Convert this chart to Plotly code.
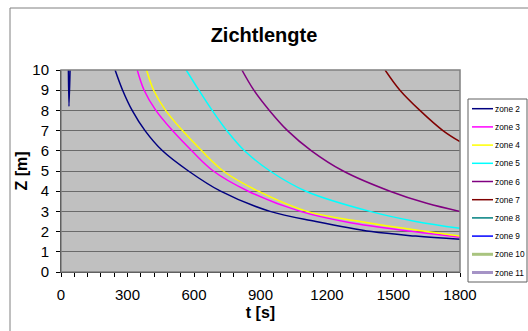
import plotly.graph_objects as go

W, H = 528, 331
L, R, T, B = 61, 460, 70, 272  # plot area in pixels

zones = ["zone 2", "zone 3", "zone 4", "zone 5", "zone 6", "zone 7",
         "zone 8", "zone 9", "zone 10", "zone 11"]
colors = ["#000080", "#FF00FF", "#FFFF00", "#00FFFF", "#800080", "#800000",
          "#008080", "#0000FF", "#A9C47F", "#A593C6"]

t2 = [33, 36, 42, None, 244, 278, 321, 379, 458, 575, 720, 943, 1150, 1401, 1600, 1800]
z2 = [10.5, 8.2, 10.5, None, 10, 9, 8, 7, 6, 5, 4, 3, 2.5, 2, 1.78, 1.62]
t3 = [344, 375, 428, 503, 590, 687, 845, 1080, 1300, 1590, 1800]
z3 = [10, 9, 8, 7, 6, 5, 4, 3, 2.45, 2, 1.72]
t4 = [386, 418, 472, 548, 635, 732, 890, 1110, 1350, 1650, 1800]
z4 = [10, 9, 8, 7, 6, 5, 4, 3, 2.5, 2, 1.78]
t5 = [565, 622, 682, 748, 828, 943, 1105, 1394, 1600, 1800]
z5 = [10, 9, 8, 7, 6, 5, 4, 3, 2.5, 2.16]
t6 = [816, 870, 940, 1022, 1130, 1273, 1484, 1650, 1800]
z6 = [10, 9, 8, 7, 6, 5, 4, 3.4, 3]
t7 = [1462, 1529, 1619, 1723, 1800]
z7 = [10, 9, 8, 7, 6.45]

series_t = [t2, t3, t4, t5, t6, t7, [], [], [], []]
series_z = [z2, z3, z4, z5, z6, z7, [], [], [], []]

x_ticks = [0, 300, 600, 900, 1200, 1500, 1800]
y_ticks = list(range(0, 11))


def px(x):
    return (x - L) / (R - L)


def py(y):
    return (B - y) / (B - T)


fig = go.Figure()
for name, col, tt, zz in zip(zones, colors, series_t, series_z):
    if tt:
        fig.add_trace(go.Scatter(x=tt, y=zz, mode="lines", name=name,
                                 line=dict(color=col, width=1.5, shape="spline", smoothing=1.0),
                                 showlegend=False, connectgaps=False))

shapes = []
# outer chart border
shapes.append(dict(type="rect", xref="paper", yref="paper",
                   x0=px(10), x1=px(560), y0=py(360), y1=py(8),
                   line=dict(color="#808080", width=1), layer="below"))
# plot area border
shapes.append(dict(type="rect", xref="paper", yref="paper",
                   x0=0, x1=1, y0=0, y1=1,
                   line=dict(color="#808080", width=1.5), layer="above"))
# legend box
shapes.append(dict(type="rect", xref="paper", yref="paper",
                   x0=px(468), x1=px(527), y0=py(282), y1=py(99),
                   line=dict(color="#606060", width=1), fillcolor="white"))
annotations = []
for i, (name, col) in enumerate(zip(zones, colors)):
    yc = 108.7 + 18.2 * i
    lw = 3 if i >= 8 else 1.5
    shapes.append(dict(type="line", xref="paper", yref="paper",
                       x0=px(472), x1=px(493), y0=py(yc), y1=py(yc),
                       line=dict(color=col, width=lw)))
    annotations.append(dict(xref="paper", yref="paper", x=px(494), y=py(yc),
                            text=name, showarrow=False, xanchor="left", yanchor="middle",
                            borderpad=0, font=dict(size=8.3, color="#000000")))

fig.update_layout(
    width=W, height=H,
    margin=dict(l=L, r=W - R, t=T, b=H - B, autoexpand=False),
    paper_bgcolor="white", plot_bgcolor="#C0C0C0",
    font=dict(family="Arial, Liberation Sans, sans-serif", color="#000000", size=15),
    title=dict(text="<b>Zichtlengte</b>", x=0.5, xanchor="center", y=1 - 35 / H, yanchor="middle",
               font=dict(size=20)),
    showlegend=False,
    shapes=shapes, annotations=annotations,
    xaxis=dict(range=[0, 1800], tickmode="array", tickvals=x_ticks,
               ticks="outside", ticklen=4, tickcolor="#000000", showgrid=False,
               showline=True, linecolor="#000000", linewidth=1, zeroline=False,
               ticklabelstandoff=5,
               minor=dict(dtick=60, ticks="outside", ticklen=4, tickcolor="#000000", showgrid=False),
               title=dict(text="<b>t [s]</b>", font=dict(size=16), standoff=4)),
    yaxis=dict(range=[0, 10], tickmode="array", tickvals=y_ticks,
               ticks="outside", ticklen=4, tickcolor="#000000",
               showgrid=True, gridcolor="#6a6a6a", gridwidth=1.3,
               showline=True, linecolor="#000000", linewidth=1, zeroline=False,
               ticklabelstandoff=4,
               title=dict(text="<b>Z [m]</b>", font=dict(size=16), standoff=0)),
)

fig.write_html("out.html")
